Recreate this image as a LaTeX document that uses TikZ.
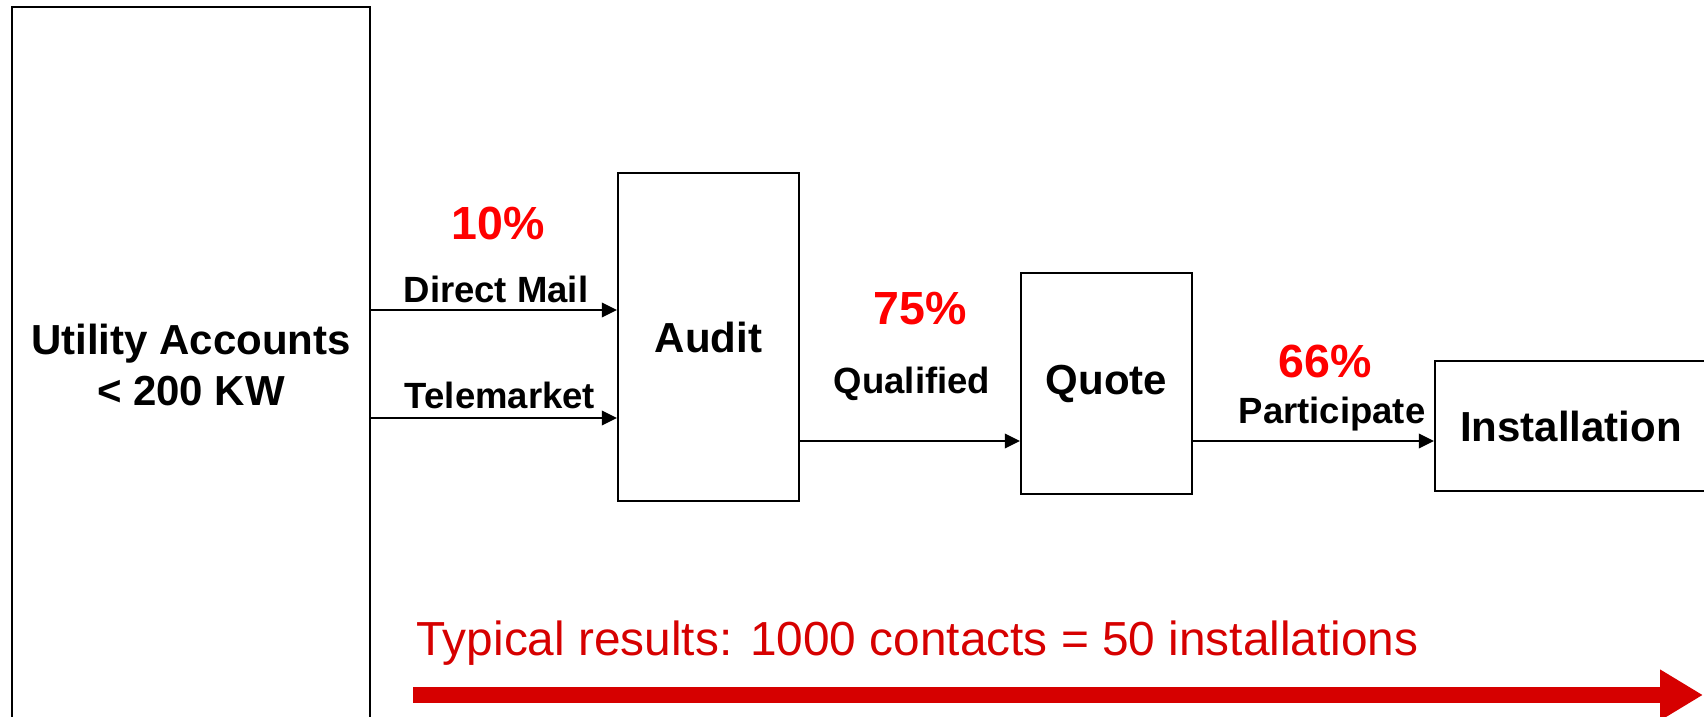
\documentclass[tikz,border=0pt]{standalone}
\usepackage{fontspec}
\setmainfont{Liberation Sans}
\usetikzlibrary{arrows.meta}
\definecolor{resultred}{RGB}{214,0,0}
\tikzset{
  box/.style={draw, line width=1.1pt, inner sep=0pt, align=center, font=\fontsize{21}{25.5}\selectfont\bfseries},
  chan/.style={inner sep=0pt, anchor=base, font=\fontsize{18.25}{22}\selectfont\bfseries},
  pct/.style={inner sep=0pt, anchor=base, text=red, font=\fontsize{23.25}{28}\selectfont\bfseries},
  flow/.style={draw, line width=0.85pt, -{Triangle[length=7.5pt,width=7.3pt]}}
}
\begin{document}
\begin{tikzpicture}[x=0.5pt,y=-0.5pt]
\useasboundingbox (0,0) rectangle (1704,717);
\clip (0,0) rectangle (1704,717);
\node[box, line width=1.4pt, minimum width=179pt, minimum height=358pt] (acct) at (191,365) {Utility Accounts\\ < 200 KW};
\node[box, minimum width=90.5pt, minimum height=164pt] (audit) at (708.5,337) {Audit};
\node[box, minimum width=85.5pt, minimum height=110.5pt] (quote) at (1106.5,383.5) {Quote};
\node[box, minimum width=136pt, minimum height=65pt] (install) at (1571,426) {Installation};
\node[pct] (pctmail) at (498,240) {10\%};
\node[chan] (lblmail) at (496,302) {Direct Mail};
\node[chan] (lbltele) at (500,408) {Telemarket};
\node[pct] (pctqual) at (920,324) {75\%};
\node[chan] (lblqual) at (912,393) {Qualified};
\node[pct] (pctpart) at (1325,377) {66\%};
\node[chan] (lblpart) at (1332,423) {Participate};
\node[inner sep=0pt, anchor=base west, text=resultred, font=\fontsize{23.9}{28}\selectfont] (results) at (416,655) {Typical results: 1000 contacts = 50 installations};
\path[flow] (acct.east |- 0,310) -- (audit.west |- 0,310);
\path[flow] (acct.east |- 0,418) -- (audit.west |- 0,418);
\path[flow] (audit.east |- 0,441) -- (quote.west |- 0,441);
\path[flow] (quote.east |- 0,441) -- (install.west |- 0,441);
\coordinate (rstart) at (413,695);
\coordinate (rend) at (1703,695);
\path[draw=resultred, line width=8pt, -{Triangle[length=21.5pt,width=24pt]}] (rstart) -- (rend);
\end{tikzpicture}
\end{document}
